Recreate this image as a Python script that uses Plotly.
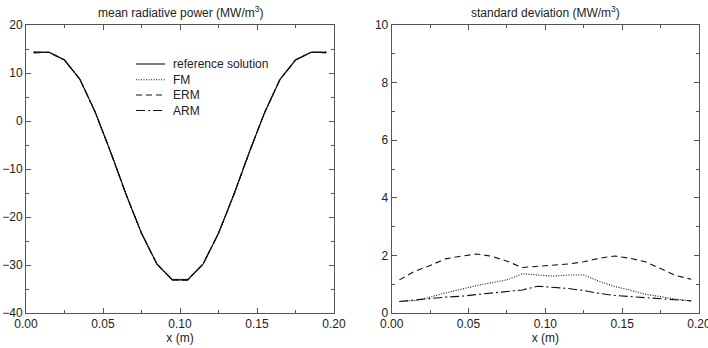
import plotly.graph_objects as go

x_cells = [0.005, 0.015, 0.025, 0.035, 0.045, 0.055, 0.065, 0.075, 0.085, 0.095,
           0.105, 0.115, 0.125, 0.135, 0.145, 0.155, 0.165, 0.175, 0.185, 0.195]

mean_ref = [14.3, 14.3, 12.7, 8.7, 1.8, -6.5, -15.3, -23.4, -29.8, -33.1,
            -33.1, -29.8, -23.4, -15.3, -6.5, 1.8, 8.7, 12.7, 14.3, 14.3]
mean_fm = [14.4, 14.3, 12.7, 8.7, 1.8, -6.5, -15.3, -23.4, -29.8, -33.0,
           -33.0, -29.8, -23.4, -15.3, -6.5, 1.8, 8.7, 12.7, 14.3, 14.4]
mean_erm = [14.2, 14.3, 12.7, 8.7, 1.8, -6.5, -15.3, -23.4, -29.8, -33.1,
            -33.1, -29.8, -23.4, -15.3, -6.5, 1.8, 8.7, 12.7, 14.3, 14.2]
mean_arm = [14.3, 14.3, 12.7, 8.7, 1.8, -6.5, -15.3, -23.4, -29.8, -33.1,
            -33.1, -29.8, -23.4, -15.3, -6.5, 1.8, 8.7, 12.7, 14.3, 14.3]

std_fm = [0.40, 0.43, 0.55, 0.70, 0.82, 0.95, 1.05, 1.15, 1.36, 1.33,
          1.28, 1.32, 1.32, 1.10, 0.92, 0.80, 0.65, 0.57, 0.48, 0.42]
std_erm = [1.15, 1.45, 1.65, 1.88, 1.97, 2.05, 1.97, 1.80, 1.58, 1.62,
           1.67, 1.70, 1.78, 1.90, 1.98, 1.90, 1.78, 1.55, 1.30, 1.17]
std_arm = [0.40, 0.44, 0.50, 0.55, 0.58, 0.64, 0.70, 0.76, 0.80, 0.93,
           0.90, 0.85, 0.78, 0.68, 0.61, 0.57, 0.52, 0.50, 0.46, 0.42]

names = ["reference solution", "FM", "ERM", "ARM"]
dashes = ["solid", "1px,1.5px", "6px,4px", "9px,3px,2px,3px"]
FONT = "Liberation Sans, Arial, sans-serif"
TXT = "#222"
LINE = "#111"

# layout geometry (pixels)
W, H = 708, 348
ML, MR, MT, MB = 26, 9, 25, 35
PW, PH = W - ML - MR, H - MT - MB


def px(xp):
    return (xp - ML) / PW


def py(yp):
    return 1 - (yp - MT) / PH


fig = go.Figure()
for name, ys, d in zip(names, [mean_ref, mean_fm, mean_erm, mean_arm], dashes):
    fig.add_trace(go.Scatter(x=x_cells, y=ys, mode="lines", name=name,
                             line=dict(color=LINE, width=1.1, dash=d),
                             xaxis="x", yaxis="y", showlegend=False))
for name, ys, d in zip(names[1:], [std_fm, std_erm, std_arm], dashes[1:]):
    fig.add_trace(go.Scatter(x=x_cells, y=ys, mode="lines", name=name,
                             line=dict(color=LINE, width=1.1, dash=d),
                             xaxis="x2", yaxis="y2", showlegend=False))

axcommon = dict(showgrid=False, zeroline=False, showline=True, linecolor="#555",
                linewidth=1, mirror="allticks", ticks="inside", ticklen=5,
                automargin=False, ticklabeloverflow="allow",
                tickcolor="#555", tickfont=dict(family=FONT, size=12, color=TXT))

# legend drawn manually (compact rows like the reference)
shapes, annotations = [], []
leg_rows = [64, 79.7, 95, 110.5]
for name, d, yr in zip(names, dashes, leg_rows):
    shapes.append(dict(type="line", xref="paper", yref="paper",
                       x0=px(136), x1=px(165), y0=py(yr), y1=py(yr),
                       line=dict(color=LINE, width=1.1, dash=d)))
    annotations.append(dict(text=name, x=px(171), y=py(yr), xref="paper", yref="paper",
                            xanchor="left", yanchor="middle", showarrow=False,
                            font=dict(family=FONT, size=12, color=TXT)))

annotations += [
    dict(text="mean radiative power (MW/m<sup>3</sup>)", x=px(180), y=1.0,
         xref="paper", yref="paper", xanchor="center", yanchor="bottom",
         yshift=3, showarrow=False, font=dict(family=FONT, size=12, color=TXT)),
    dict(text="standard deviation (MW/m<sup>3</sup>)", x=px(545.5), y=1.0,
         xref="paper", yref="paper", xanchor="center", yanchor="bottom",
         yshift=3, showarrow=False, font=dict(family=FONT, size=12, color=TXT)),
]

fig.update_layout(
    width=W, height=H,
    margin=dict(l=ML, r=MR, t=MT, b=MB, autoexpand=False),
    paper_bgcolor="white", plot_bgcolor="white",
    font=dict(family=FONT, size=12, color=TXT),
    showlegend=False,
    xaxis=dict(domain=[0, px(334)], range=[0, 0.2], dtick=0.05, tickformat=".2f",
               minor=dict(ticks="inside", ticklen=3, dtick=0.025, tickcolor="#555"),
               title=dict(text="x (m)", standoff=0, font=dict(size=12)), **axcommon),
    yaxis=dict(domain=[0, 1], range=[-40, 20], dtick=10,
               minor=dict(ticks="inside", ticklen=3, dtick=5, tickcolor="#555"),
               **axcommon),
    xaxis2=dict(domain=[px(391.7), 1], range=[0, 0.2], dtick=0.05, tickformat=".2f",
                anchor="y2",
                minor=dict(ticks="inside", ticklen=3, dtick=0.025, tickcolor="#555"),
                title=dict(text="x (m)", standoff=0, font=dict(size=12)), **axcommon),
    yaxis2=dict(domain=[0, 1], range=[0, 10], dtick=2, anchor="x2",
                minor=dict(ticks="inside", ticklen=3, dtick=1, tickcolor="#555"),
                **axcommon),
    shapes=shapes,
    annotations=annotations,
)

fig.write_html("out.html")
